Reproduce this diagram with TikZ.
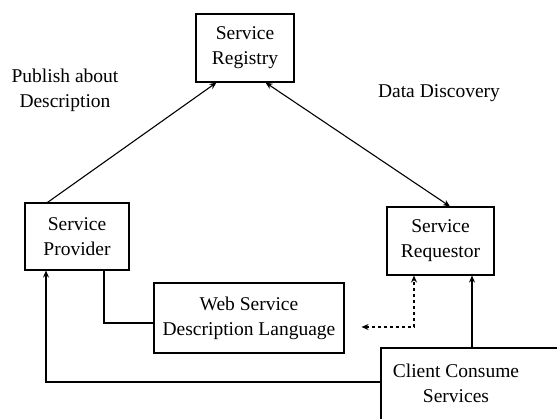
\documentclass[tikz,border=0pt]{standalone}
\usepackage{fontspec}
\setmainfont{Liberation Serif}
\usetikzlibrary{arrows.meta}
\begin{document}
\begin{tikzpicture}[x=1pt,y=-1pt,
  box/.style={draw,line width=1.1pt,inner sep=0pt,align=center,font=\fontsize{19.5}{25}\selectfont},
  lbl/.style={inner sep=0pt,align=center,font=\fontsize{19.5}{25}\selectfont},
  conn/.style={line width=1.1pt},
  tip/.style={-{Stealth[length=7pt,width=6pt]}},
  tips/.style={{Stealth[length=7pt,width=6pt]}-{Stealth[length=7pt,width=6pt]}}]
\useasboundingbox (0,0) rectangle (557,418);
\clip (0,0) rectangle (557,418);
\node[box,minimum width=98pt,minimum height=68pt] (reg) at (245,48) {Service\\Registry};
\node[box,minimum width=104pt,minimum height=67pt] (prov) at (77,236.5) {Service\\Provider};
\node[box,minimum width=107pt,minimum height=68pt] (req) at (440.5,241) {Service\\Requestor};
\node[box,minimum width=190pt,minimum height=70pt] (wsdl) at (249,318) {Web Service\\Description Language};
\node[lbl] (client) at (456,383) {Client Consume\\Services};
\coordinate (cnw) at (381,348);
\coordinate (cne) at (570,348);
\coordinate (csw) at (381,430);
\draw[conn] (cne) -- (cnw) -- (csw);
\node[lbl] (pub) at (65,90) {Publish about\\Description};
\node[lbl] (disc) at (439,93) {Data Discovery};
% connector anchors
\coordinate (reqr) at ([xshift=31.5pt]req.south);
\coordinate (reql) at ([xshift=-26.5pt]req.south);
\coordinate (clientl) at ([yshift=-34pt]cnw);
% connectors
\draw[conn,tip] ([xshift=23pt]prov.north west) -- ([xshift=21pt]reg.south west);
\draw[conn,tips] ([xshift=-29pt]reg.south east) -- ([xshift=9.5pt]req.north);
\draw[conn] ([xshift=27pt]prov.south) |- ([yshift=-5pt]wsdl.west);
\draw[conn,dashed,tips] ([xshift=17pt,yshift=-9pt]wsdl.east) -| (reql);
\draw[conn,tip] (cnw -| reqr) -- (reqr);
\draw[conn,tip] (clientl) -| ([xshift=-31pt]prov.south);
\end{tikzpicture}
\end{document}
